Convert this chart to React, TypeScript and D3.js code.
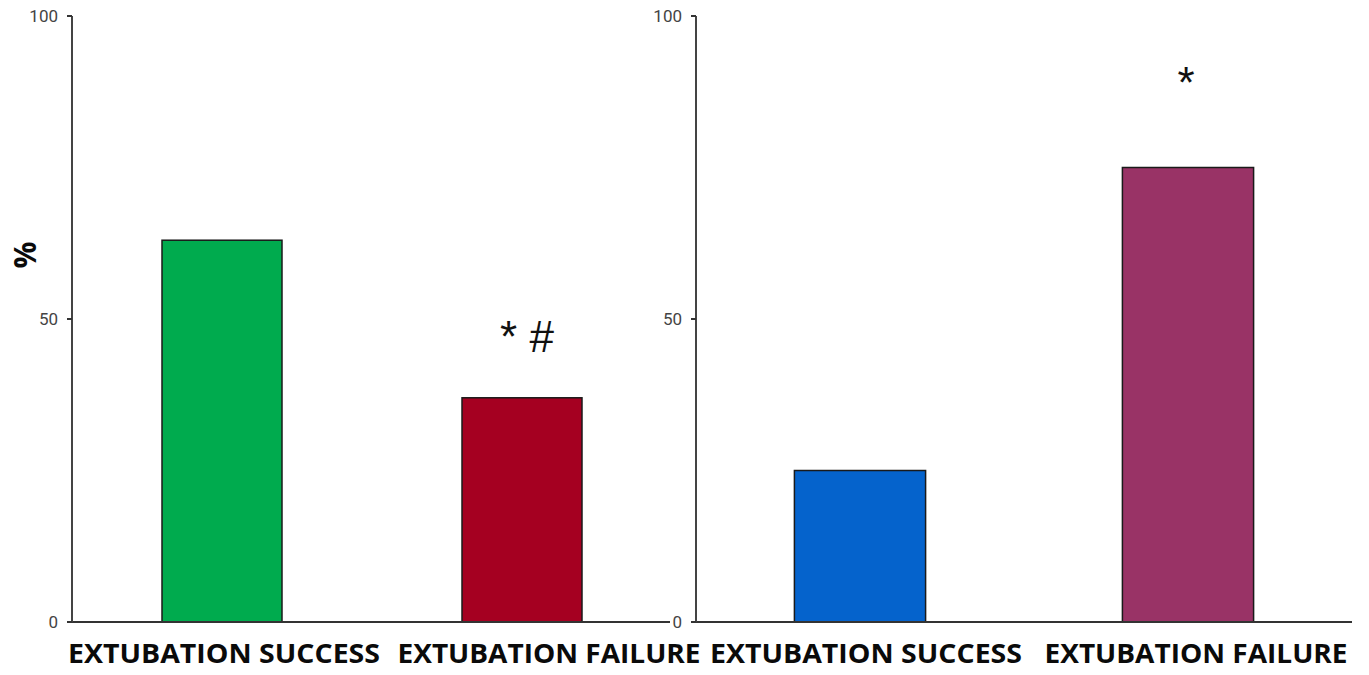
import React from "react";
import * as d3 from "d3";

const leftCategories = ["EXTUBATION SUCCESS", "EXTUBATION FAILURE"];
const leftValues = [63, 37];
const leftColors = ["#00AB4E", "#A50021"];
const leftMarks = ["", "* #"];

const rightCategories = ["EXTUBATION SUCCESS", "EXTUBATION FAILURE"];
const rightValues = [25, 75];
const rightColors = ["#0563CC", "#993366"];
const rightMarks = ["", "*"];

const yTicks = [0, 50, 100];

const W = 1369;
const H = 675;
const yTop = 16;
const yBottom = 622;

type PanelProps = {
  x0: number;
  x1: number;
  axisEnd: number;
  categories: string[];
  values: number[];
  colors: string[];
  marks: string[];
  labelDx: number[];
  labelLen: number[];
  markDy: number[];
  markDx: number[];
  padOuter: number;
  padInner: number;
};

function Panel(p: PanelProps) {
  const y = d3.scaleLinear().domain([0, 100]).range([yBottom, yTop]);
  const x = d3
    .scaleBand<string>()
    .domain(p.categories.map((c, i) => c + i))
    .range([p.x0, p.x1])
    .paddingInner(p.padInner)
    .paddingOuter(p.padOuter);
  return (
    <g>
      {p.categories.map((c, i) => {
        const bx = x(c + i) as number;
        const bw = x.bandwidth();
        return (
          <g key={i}>
            <rect
              x={bx}
              y={y(p.values[i])}
              width={bw}
              height={y(0) - y(p.values[i])}
              fill={p.colors[i]}
              stroke="#1a1a1a"
              strokeWidth={1.5}
            />
            {p.marks[i] && (
              <text
                x={bx + bw / 2 + p.markDx[i]}
                y={y(p.values[i]) - p.markDy[i]}
                textAnchor="middle"
                fontFamily="'Liberation Sans', Arial, sans-serif"
                fontSize={44}
                fill="#111"
              >
                {p.marks[i]}
              </text>
            )}
            <text
              x={bx + bw / 2 + p.labelDx[i]}
              y={663}
              textAnchor="middle"
              fontFamily="'Open Sans', sans-serif"
              fontWeight="bold"
              fontSize={27}
              textLength={p.labelLen[i]}
              lengthAdjust="spacingAndGlyphs"
              fill="#0a0a0a"
            >
              {c}
            </text>
          </g>
        );
      })}
      <line x1={p.x0 - 4} x2={p.axisEnd} y1={y(0)} y2={y(0)} stroke="#333" strokeWidth={2} />
      <line x1={p.x0} x2={p.x0} y1={y(100)} y2={y(0)} stroke="#444" strokeWidth={2} />
      {yTicks.map((t) => (
        <g key={t}>
          <line x1={p.x0 - 5} x2={p.x0} y1={y(t)} y2={y(t)} stroke="#333" strokeWidth={2} />
          <text
            x={p.x0 - 14}
            y={y(t)}
            dy="0.35em"
            textAnchor="end"
            fontFamily="Roboto, sans-serif"
            fontSize={17}
            fill="#444"
          >
            {t}
          </text>
        </g>
      ))}
    </g>
  );
}

export default function App() {
  return (
    <svg width={W} height={H} style={{ position: "absolute", left: 0, top: 0, background: "#fff" }}>
      <rect width={W} height={H} fill="#fff" />
      <text
        transform="translate(36,255) rotate(-90)"
        textAnchor="middle"
        fontFamily="'Open Sans', sans-serif"
        fontWeight="bold"
        fontSize={30}
        fill="#0a0a0a"
      >
        %
      </text>
      <Panel
        x0={72}
        x1={672}
        axisEnd={670}
        categories={leftCategories}
        values={leftValues}
        colors={leftColors}
        marks={leftMarks}
        labelDx={[2, 27]}
        labelLen={[312, 303]}
        markDy={[0, 46]}
        markDx={[0, 5]}
        padInner={0.6}
        padOuter={0.3}
      />
      <Panel
        x0={696}
        x1={1352}
        axisEnd={1352}
        categories={rightCategories}
        values={rightValues}
        colors={rightColors}
        marks={rightMarks}
        labelDx={[6, 8]}
        labelLen={[312, 303]}
        markDy={[0, 70]}
        markDx={[0, -2]}
        padInner={0.6}
        padOuter={0.3}
      />
    </svg>
  );
}
